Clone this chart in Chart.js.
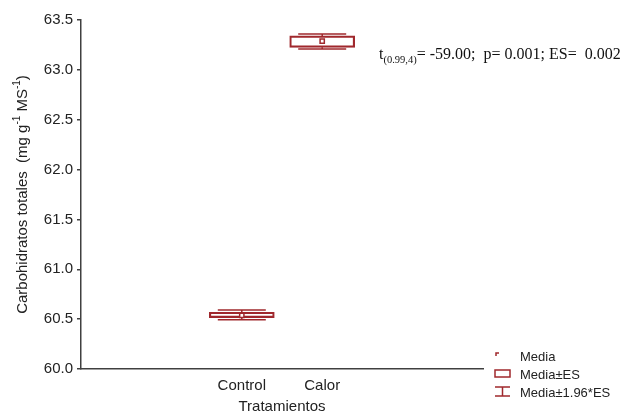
<!DOCTYPE html>
<html>
<head>
<meta charset="utf-8">
<script src="https://cdn.jsdelivr.net/npm/chart.js@4.4.0/dist/chart.umd.min.js"></script>
<style>
html, body { margin: 0; padding: 0; background: #fff; }
</style>
</head>
<body>
<canvas id="myChart" width="635" height="413"></canvas>
<script>
/* datos */
const tratamientos = ["Control", "Calor"];
const medias = [60.537, 63.289];
const cajaInf = [60.515, 63.226];   /* Media - ES */
const cajaSup = [60.569, 63.340];   /* Media + ES */
const bigoteInf = [60.495, 63.209]; /* Media - 1.96*ES */
const bigoteSup = [60.592, 63.360]; /* Media + 1.96*ES */
const ticksY = [60.0, 60.5, 61.0, 61.5, 62.0, 62.5, 63.0, 63.5];
const textoPrueba = ["t", "(0.99,4)", "= -59.00;  p= 0.001; ES=  0.002"];
const leyenda = ["Media", "Media±ES", "Media±1.96*ES"];

const rojo = "#a0282d";
const gris = "#404040";
const fuente = "Arial, 'Liberation Sans', sans-serif";

/* posicion de cada tratamiento en el eje x */
const posicion = (i) => i + 2;

/* bigotes, textos y leyenda */
const extras = {
  id: "extras",
  afterDatasetsDraw(chart) {
    const ctx = chart.ctx;
    const xs = chart.scales.x;
    const ys = chart.scales.y;
    ctx.save();
    ctx.strokeStyle = rojo;
    ctx.lineWidth = 1.5;
    tratamientos.forEach((t, i) => {
      const x = xs.getPixelForValue(posicion(i));
      const yBi = ys.getPixelForValue(bigoteInf[i]);
      const yBs = ys.getPixelForValue(bigoteSup[i]);
      const yCi = ys.getPixelForValue(cajaInf[i]);
      const yCs = ys.getPixelForValue(cajaSup[i]);
      ctx.beginPath();
      ctx.moveTo(x - 24, yBs); ctx.lineTo(x + 24, yBs);
      ctx.moveTo(x - 24, yBi); ctx.lineTo(x + 24, yBi);
      ctx.moveTo(x, yBs); ctx.lineTo(x, yCs);
      ctx.moveTo(x, yCi); ctx.lineTo(x, yBi);
      ctx.stroke();
    });
    ctx.restore();
  },
  afterDraw(chart) {
    const ctx = chart.ctx;
    const area = chart.chartArea;
    ctx.save();

    /* titulo eje y con superindices */
    const partes = [
      ["Carbohidratos totales  (mg g", false],
      ["-1", true],
      [" MS", false],
      ["-1", true],
      [")", false]
    ];
    const fNormal = "15px " + fuente;
    const fSup = "10px " + fuente;
    let total = 0;
    partes.forEach(p => {
      ctx.font = p[1] ? fSup : fNormal;
      total += ctx.measureText(p[0]).width;
    });
    ctx.translate(23, (area.top + area.bottom) / 2);
    ctx.rotate(-Math.PI / 2);
    ctx.fillStyle = "#222";
    ctx.textBaseline = "middle";
    let px = -total / 2;
    partes.forEach(p => {
      ctx.font = p[1] ? fSup : fNormal;
      ctx.fillText(p[0], px, p[1] ? -6 : 0);
      px += ctx.measureText(p[0]).width;
    });
    ctx.setTransform(1, 0, 0, 1, 0, 0);

    /* titulo eje x */
    ctx.font = "15px " + fuente;
    ctx.textAlign = "center";
    ctx.textBaseline = "middle";
    ctx.fillText("Tratamientos", (area.left + area.right) / 2, 407);

    /* texto de la prueba t */
    ctx.textAlign = "left";
    ctx.textBaseline = "alphabetic";
    ctx.fillStyle = "#111";
    let tx = 379;
    ctx.font = "16px 'Liberation Serif', 'Times New Roman', serif";
    ctx.fillText(textoPrueba[0], tx, 59);
    tx += ctx.measureText(textoPrueba[0]).width;
    ctx.font = "10.5px 'Liberation Serif', 'Times New Roman', serif";
    ctx.fillText(textoPrueba[1], tx, 63);
    tx += ctx.measureText(textoPrueba[1]).width;
    ctx.font = "16px 'Liberation Serif', 'Times New Roman', serif";
    ctx.fillText(textoPrueba[2], tx, 59);

    /* leyenda */
    ctx.font = "13px " + fuente;
    ctx.textBaseline = "middle";
    ctx.fillStyle = "#222";
    const lx = 495;
    const filas = [357, 375, 393];
    leyenda.forEach((l, i) => ctx.fillText(l, lx + 25, filas[i]));
    ctx.strokeStyle = rojo;
    ctx.lineWidth = 1.5;
    ctx.beginPath();
    ctx.moveTo(lx + 1, filas[0] - 1); ctx.lineTo(lx + 1, filas[0] - 4); ctx.lineTo(lx + 4, filas[0] - 4);
    ctx.stroke();
    ctx.strokeRect(lx, filas[1] - 5, 15, 7);
    ctx.beginPath();
    ctx.moveTo(lx, filas[2] - 6); ctx.lineTo(lx + 15, filas[2] - 6);
    ctx.moveTo(lx, filas[2] + 3); ctx.lineTo(lx + 15, filas[2] + 3);
    ctx.moveTo(lx + 7.5, filas[2] - 6); ctx.lineTo(lx + 7.5, filas[2] + 3);
    ctx.stroke();

    ctx.restore();
  }
};

const config = {
  type: "bar",
  data: {
    datasets: [
      {
        type: "line",
        label: "Media",
        data: tratamientos.map((t, i) => ({ x: posicion(i), y: medias[i] })),
        showLine: false,
        pointStyle: "rect",
        pointRadius: 3,
        pointBackgroundColor: "#fff",
        pointBorderColor: rojo,
        pointBorderWidth: 1.5,
        order: 0
      },
      {
        type: "bar",
        label: "Media±ES",
        data: tratamientos.map((t, i) => ({ x: posicion(i), y: [cajaInf[i], cajaSup[i]] })),
        barThickness: 65,
        backgroundColor: "rgba(255,255,255,0)",
        borderColor: rojo,
        borderWidth: 1.5,
        borderSkipped: false,
        order: 1
      }
    ]
  },
  options: {
    responsive: false,
    animation: false,
    layout: { padding: { left: 0, top: 20, right: 152, bottom: 0 } },
    plugins: {
      legend: { display: false },
      tooltip: { enabled: false }
    },
    scales: {
      x: {
        type: "linear",
        offset: false,
        min: 0,
        max: tratamientos.length + 3,
        grid: { display: false, offset: false },
        border: { display: true, color: gris, width: 1.5 },
        afterBuildTicks: (scale) => {
          scale.ticks = tratamientos.map((t, i) => ({ value: posicion(i) }));
        },
        ticks: {
          autoSkip: false,
          maxRotation: 0,
          padding: 0,
          color: "#222",
          font: { family: fuente, size: 15 },
          callback: (v) => tratamientos[v - 2]
        },
        afterFit: (scale) => { scale.height = 44; }
      },
      y: {
        min: 60,
        max: 63.5,
        grid: { display: true, drawOnChartArea: false, drawTicks: true, tickLength: 4, color: gris, lineWidth: 1.5 },
        border: { display: true, color: gris, width: 1.5 },
        afterBuildTicks: (scale) => {
          scale.ticks = ticksY.map(v => ({ value: v }));
        },
        ticks: {
          padding: 4,
          color: "#222",
          font: { family: fuente, size: 15 },
          callback: (v) => v.toFixed(1)
        },
        afterFit: (scale) => { scale.width = 81; }
      }
    }
  },
  plugins: [extras]
};

new Chart(document.getElementById("myChart"), config);
</script>
</body>
</html>
